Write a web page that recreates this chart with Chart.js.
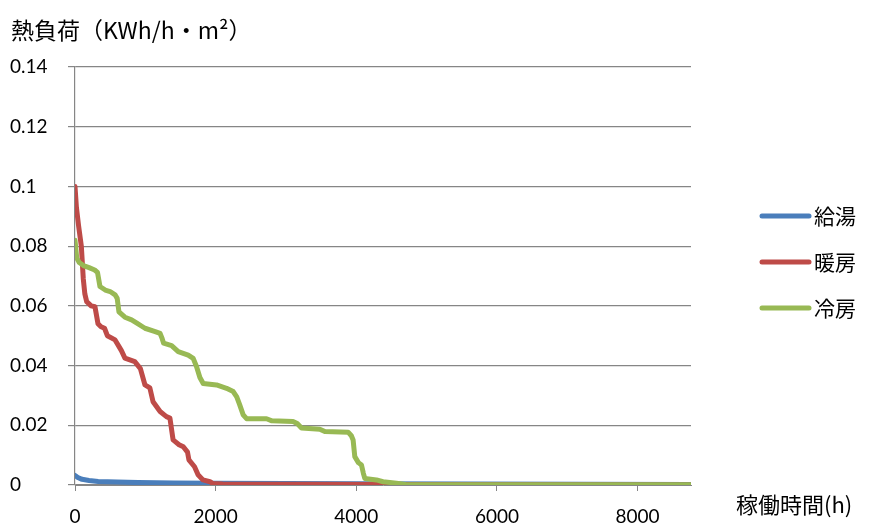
<!DOCTYPE html>
<html>
<head>
<meta charset="utf-8">
<script src="https://cdn.jsdelivr.net/npm/chart.js@4/dist/chart.umd.min.js"></script>
<style>
  html, body { margin: 0; padding: 0; background: #ffffff; }
  #wrap { width: 874px; height: 524px; position: relative; }
</style>
</head>
<body>
<div id="wrap"><canvas id="c" width="874" height="524"></canvas></div>
<script>
// Annual load duration curves (hours sorted by load, descending)
const seriesNames = ['給湯', '暖房', '冷房'];
const seriesColors = ['#4A7EBB', '#BE4B48', '#98B954'];

// 給湯 (hot water supply)
const hotWaterHours = [0, 40, 100, 200, 330, 600, 900, 1400, 2000, 4000, 8760];
const hotWaterLoad  = [0.0032, 0.0025, 0.0019, 0.0015, 0.0012, 0.0010, 0.0008, 0.0007, 0.0006, 0.0004, 0.0002];

// 暖房 (heating)
const heatingHours = [0, 20, 50, 90, 118, 140, 166, 230, 284, 327, 370, 420, 460, 570, 660, 710, 850, 930, 995, 1065,
                      1110, 1210, 1300, 1350, 1395, 1480, 1540, 1600, 1620, 1700, 1750, 1820, 1920, 1960, 2100, 4500, 8760];
const heatingLoad  = [0.100, 0.093, 0.087, 0.080, 0.069, 0.064, 0.0614, 0.0600, 0.0597, 0.0540, 0.0530, 0.0525, 0.0500,
                      0.0486, 0.0450, 0.0425, 0.0413, 0.0390, 0.0335, 0.0325, 0.0279, 0.0246, 0.0229, 0.0224, 0.0151,
                      0.0135, 0.0128, 0.0110, 0.0084, 0.0061, 0.0034, 0.0017, 0.0011, 0.0005, 0.0003, 0.0002, 0];

// 冷房 (cooling)
const coolingHours = [0, 25, 60, 120, 200, 280, 320, 355, 430, 500, 570, 600, 625, 710, 805, 880, 995, 1140, 1210, 1240,
                      1260, 1374, 1468, 1610, 1681, 1729, 1776, 1823, 2013, 2155, 2250, 2300, 2340, 2392, 2440, 2724,
                      2800, 3100, 3160, 3221, 3481, 3553, 3884, 3930, 3955, 3979, 4030, 4074, 4100, 4121, 4287, 4381,
                      4571, 4700, 8760];
const coolingLoad  = [0.082, 0.0760, 0.0745, 0.0735, 0.0728, 0.0720, 0.0712, 0.0665, 0.0653, 0.0648, 0.0637, 0.0625,
                      0.0580, 0.0562, 0.0553, 0.0542, 0.0525, 0.0514, 0.0508, 0.0490, 0.0475, 0.0467, 0.0447, 0.0435,
                      0.0424, 0.0396, 0.0360, 0.0340, 0.0335, 0.0324, 0.0313, 0.0295, 0.0270, 0.0235, 0.0222, 0.0222,
                      0.0215, 0.0213, 0.0206, 0.0191, 0.0187, 0.0179, 0.0177, 0.0165, 0.0151, 0.0095, 0.0075, 0.0067,
                      0.0040, 0.0022, 0.0017, 0.0011, 0.0006, 0.0002, 0.0001];

const xTicks = [0, 2000, 4000, 6000, 8000];
const yTicks = [0, 0.02, 0.04, 0.06, 0.08, 0.1, 0.12, 0.14];
const yTitle = '熱負荷（KWh/h・m²）';
const xTitle = '稼働時間(h)';

const toPoints = (xs, ys) => xs.map((x, i) => ({ x: x, y: ys[i] }));

const FONT = "Lato, 'Noto Sans CJK JP', sans-serif";
const CJK = "'Noto Sans CJK JP', Lato, sans-serif";

const lineStyle = (i) => ({
  label: seriesNames[i],
  borderColor: seriesColors[i],
  backgroundColor: seriesColors[i],
  borderWidth: 5,
  borderCapStyle: 'round',
  borderJoinStyle: 'round',
  pointRadius: 0,
  pointHoverRadius: 0,
  tension: 0,
  fill: false
});

// Axis titles and the legend, drawn on the chart canvas
const decorations = {
  id: 'decorations',
  afterDraw(chart) {
    const ctx = chart.ctx;
    ctx.save();
    ctx.fillStyle = '#000000';
    ctx.textBaseline = 'middle';
    ctx.textAlign = 'left';
    ctx.font = "23px " + CJK;
    ctx.fillText(yTitle, 11, 30);
    ctx.font = "22px " + CJK;
    ctx.fillText(xTitle, 736, 505);

    const rows = [216, 262, 308];
    seriesNames.forEach((name, i) => {
      const y = rows[i];
      ctx.strokeStyle = seriesColors[i];
      ctx.lineWidth = 5;
      ctx.lineCap = 'round';
      ctx.beginPath();
      ctx.moveTo(762, y);
      ctx.lineTo(809, y);
      ctx.stroke();
      ctx.fillStyle = '#000000';
      ctx.font = "21px " + CJK;
      ctx.fillText(name, 814, y);
    });
    ctx.restore();
  }
};

new Chart(document.getElementById('c'), {
  type: 'line',
  data: {
    datasets: [
      Object.assign(lineStyle(0), { data: toPoints(hotWaterHours, hotWaterLoad), order: 2 }),
      Object.assign(lineStyle(1), { data: toPoints(heatingHours, heatingLoad), order: 1 }),
      Object.assign(lineStyle(2), { data: toPoints(coolingHours, coolingLoad), order: 0 })
    ]
  },
  options: {
    responsive: false,
    animation: false,
    events: [],
    layout: { padding: { left: 10, right: 183, top: 67, bottom: 0 } },
    plugins: {
      legend: { display: false },
      tooltip: { enabled: false },
      title: { display: false }
    },
    scales: {
      x: {
        type: 'linear',
        min: 0,
        max: 8760,
        afterBuildTicks(scale) { scale.ticks = xTicks.map(v => ({ value: v })); },
        afterFit(scale) { scale.height = 39; },
        ticks: {
          includeBounds: false,
          color: '#000000',
          font: { family: FONT, size: 19 },
          padding: 14,
          maxRotation: 0,
          callback: (v) => String(v)
        },
        grid: {
          display: true,
          drawOnChartArea: false,
          drawTicks: true,
          tickLength: 6,
          color: '#868686'
        },
        border: { display: true, color: '#868686', width: 1 }
      },
      y: {
        type: 'linear',
        min: 0,
        max: 0.14,
        afterBuildTicks(scale) { scale.ticks = yTicks.map(v => ({ value: v })); },
        afterFit(scale) { scale.width = 65; },
        ticks: {
          color: '#000000',
          font: { family: FONT, size: 19 },
          crossAlign: 'far',
          padding: 8,
          callback: (v) => String(Math.round(v * 100) / 100)
        },
        grid: {
          color: '#868686',
          lineWidth: 1.2,
          drawTicks: true,
          tickLength: 7
        },
        border: { display: true, color: '#868686', width: 1.2 }
      }
    }
  },
  plugins: [decorations]
});
</script>
</body>
</html>
